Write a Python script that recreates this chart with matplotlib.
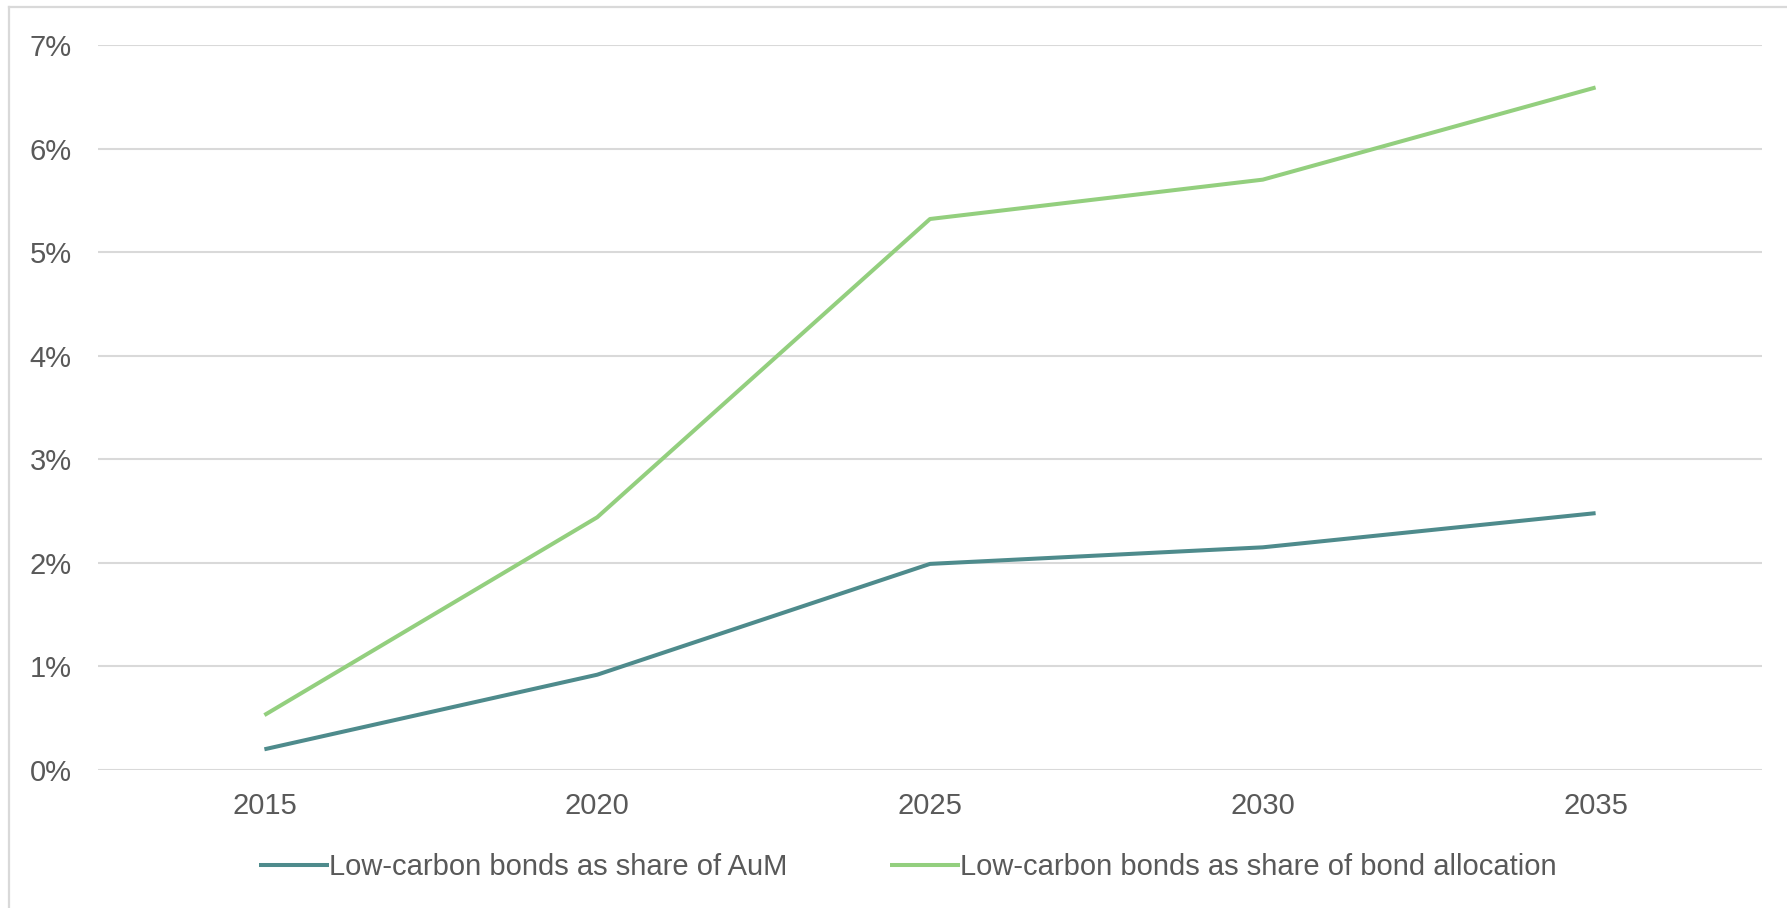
import matplotlib.pyplot as plt
from matplotlib.lines import Line2D
from matplotlib.ticker import FuncFormatter

plt.rcParams['font.family'] = ['Liberation Sans', 'DejaVu Sans']

# data (percent)
years = ["2015", "2020", "2025", "2030", "2035"]
share_aum = [0.20, 0.92, 1.99, 2.15, 2.48]
share_bonds = [0.53, 2.44, 5.32, 5.70, 6.59]
y_ticks = [0, 1, 2, 3, 4, 5, 6, 7]

teal = "#4e8b8c"
green = "#93cf7e"
text_col = "#595959"
grid_col = "#d9d9d9"

W, H = 1787, 908
fig = plt.figure(figsize=(W / 100, H / 100), dpi=100)
ax = fig.add_axes([98 / W, 1 - 770 / H, (1762 - 98) / W, (770 - 45) / H])

x = list(range(len(years)))
ax.plot(x, share_aum, color=teal, lw=2.9, label="Low-carbon bonds as share of AuM",
        solid_capstyle="butt")
ax.plot(x, share_bonds, color=green, lw=2.9, label="Low-carbon bonds as share of bond allocation",
        solid_capstyle="butt")

ax.set_xlim(-0.5, len(years) - 0.5)
ax.set_ylim(0, 7)
ax.set_xticks(x)
ax.set_xticklabels(years)
ax.set_yticks(y_ticks)
ax.yaxis.set_major_formatter(FuncFormatter(lambda v, p: f"{v:.0f}%"))

ax.grid(axis="y", color=grid_col, lw=1.5)
ax.set_axisbelow(True)
for s in ax.spines.values():
    s.set_visible(False)
ax.tick_params(axis="both", length=0, labelsize=21, colors=text_col)
ax.tick_params(axis="y", pad=19)
ax.tick_params(axis="x", pad=16)

leg = fig.legend(loc="center", bbox_to_anchor=(0.508, 1 - 867 / H), ncol=2,
                 frameon=False, fontsize=21, handlelength=2.4, handletextpad=0.0,
                 columnspacing=3.5, labelcolor=text_col)

# light frame around the chart
fig.add_artist(Line2D([9 / W, 9 / W], [0, 1 - 7 / H], color=grid_col, lw=1.6))
fig.add_artist(Line2D([9 / W, 1], [1 - 7 / H, 1 - 7 / H], color=grid_col, lw=1.6))

fig.savefig("out.png", dpi=100)
